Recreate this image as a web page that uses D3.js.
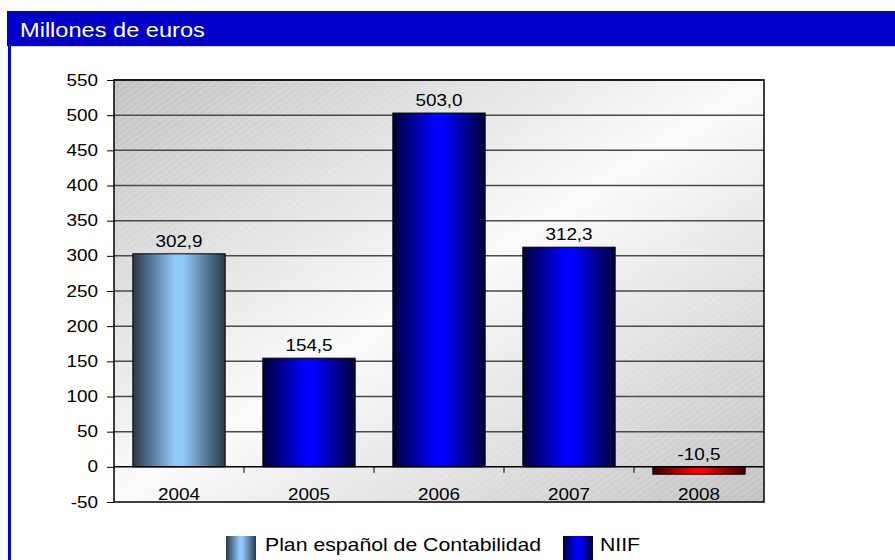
<!DOCTYPE html>
<html><head><meta charset="utf-8">
<script src="https://cdn.jsdelivr.net/npm/d3@7"></script>
<style>body{margin:0;background:#fff}svg{display:block;font-family:Arial,"Liberation Sans",sans-serif}</style>
</head><body><svg id="c" width="895" height="560"></svg>
<script>
const title = "Millones de euros";
const categories = ["2004","2005","2006","2007","2008"];
const values = [302.9,154.5,503.0,312.3,-10.5];
const valueLabels = ["302,9","154,5","503,0","312,3","-10,5"];
const seriesOf = ["pgc","niif","niif","niif","neg"];
const yTicks = [-50,0,50,100,150,200,250,300,350,400,450,500,550];
const yTickLabels = ["-50","0","50","100","150","200","250","300","350","400","450","500","550"];
const legendNames = ["Plan español de Contabilidad","NIIF"];

const SX = 1.18; // horizontal stretch of text in the reference
const svg = d3.select("#c");
const W = 895, H = 560;
const m = {l:114, r:764, t:80, b:502};
const defs = svg.append("defs");
function hgrad(id, edge, mid){
  const g = defs.append("linearGradient").attr("id",id).attr("x1",0).attr("x2",1).attr("y1",0).attr("y2",0);
  g.append("stop").attr("offset","0%").attr("stop-color",edge);
  g.append("stop").attr("offset","45%").attr("stop-color",mid);
  g.append("stop").attr("offset","55%").attr("stop-color",mid);
  g.append("stop").attr("offset","100%").attr("stop-color",edge);
}
hgrad("pgc","#28384a","#90c8f8");
hgrad("niif","#000038","#0000ff");
hgrad("neg","#3a0000","#ff0000");
const bg = defs.append("linearGradient").attr("id","bg").attr("x1",0).attr("y1",0).attr("x2",1).attr("y2",1);
bg.append("stop").attr("offset","0%").attr("stop-color","#c2c2c2");
bg.append("stop").attr("offset","50%").attr("stop-color","#fbfbfb");
bg.append("stop").attr("offset","100%").attr("stop-color","#c2c2c2");
const pat = defs.append("pattern").attr("id","hatch").attr("width",5).attr("height",5)
  .attr("patternUnits","userSpaceOnUse").attr("patternTransform","rotate(55)");
pat.append("line").attr("x1",0).attr("y1",0).attr("x2",0).attr("y2",5)
  .attr("stroke","#ffffff").attr("stroke-width",1).attr("stroke-opacity",0.4);

function stext(sel, x, y, size, anchor){
  return sel.append("text").attr("transform",`translate(${x},${y}) scale(${SX},1)`)
    .attr("font-size",size).attr("text-anchor",anchor||"start").attr("fill","#000");
}

// frame
svg.append("rect").attr("x",7).attr("y",11).attr("width",W-7).attr("height",35).attr("fill","#0000c8");
svg.append("rect").attr("x",7).attr("y",46).attr("width",W-7).attr("height",1).attr("fill","#d8d8ff");
svg.append("rect").attr("x",8).attr("y",46).attr("width",3).attr("height",H-46).attr("fill","#0000e0");
stext(svg,20,37,20).attr("fill","#fff").text(title);

const x = d3.scaleBand().domain(categories).range([m.l,m.r]).paddingInner(0.29).paddingOuter(0.145);
const xb = d3.scaleBand().domain(categories).range([m.l,m.r]);
const y = d3.scaleLinear().domain([-50,550]).range([m.b,m.t]);

svg.append("rect").attr("x",m.l).attr("y",m.t).attr("width",m.r-m.l).attr("height",m.b-m.t).attr("fill","url(#bg)");
svg.append("rect").attr("x",m.l).attr("y",m.t).attr("width",m.r-m.l).attr("height",m.b-m.t).attr("fill","url(#hatch)");

// grid
svg.append("g").selectAll("line").data(yTicks.filter(t=>t>0)).join("line")
  .attr("x1",m.l).attr("x2",m.r).attr("y1",d=>y(d)).attr("y2",d=>y(d))
  .attr("stroke","#4a4a4a").attr("stroke-width",1.5);

// bars
svg.append("g").selectAll("rect").data(values).join("rect")
  .attr("x",(d,i)=>x(categories[i])).attr("width",x.bandwidth())
  .attr("y",d=>y(Math.max(d,0))).attr("height",d=>Math.abs(y(d)-y(0)))
  .attr("fill",(d,i)=>`url(#${seriesOf[i]})`).attr("stroke","#000").attr("stroke-width",1);

// value labels
const vl = svg.append("g");
values.forEach((d,i)=>{
  stext(vl, x(categories[i])+x.bandwidth()/2, y(Math.max(d,0))-7, 16, "middle").text(valueLabels[i]);
});

// y axis
const ya = svg.append("g").attr("transform",`translate(${m.l},0)`)
  .call(d3.axisLeft(y).tickValues(yTicks).tickSize(7).tickFormat((d,i)=>yTickLabels[i]));
ya.select(".domain").remove();
ya.selectAll(".tick line").attr("stroke","#000");
ya.selectAll(".tick text").attr("x",null).attr("transform",`translate(-16,0) scale(${SX},1)`)
  .attr("font-size",16).attr("fill","#000").attr("font-family","Arial,'Liberation Sans',sans-serif");

// zero line and x ticks
svg.append("line").attr("x1",m.l).attr("x2",m.r).attr("y1",y(0)).attr("y2",y(0)).attr("stroke","#000").attr("stroke-width",1.5);
svg.append("g").selectAll("line").data(categories.slice(1)).join("line")
  .attr("x1",d=>xb(d)).attr("x2",d=>xb(d)).attr("y1",y(0)).attr("y2",y(0)+6).attr("stroke","#000");
const xl = svg.append("g");
categories.forEach(c=>{ stext(xl, xb(c)+xb.bandwidth()/2, y(-50)-2, 16, "middle").text(c); });

// border
svg.append("rect").attr("x",m.l).attr("y",m.t).attr("width",m.r-m.l).attr("height",m.b-m.t)
  .attr("fill","none").attr("stroke","#000").attr("stroke-width",1.5);

// legend
const leg = [{name:legendNames[0],fill:"pgc",x:226,tx:265},{name:legendNames[1],fill:"niif",x:563,tx:600}];
const lg = svg.append("g");
leg.forEach(d=>{
  lg.append("rect").attr("x",d.x).attr("y",536).attr("width",30).attr("height",26).attr("fill",`url(#${d.fill})`);
  stext(lg, d.tx, 551, 18).text(d.name);
});
</script></body></html>
